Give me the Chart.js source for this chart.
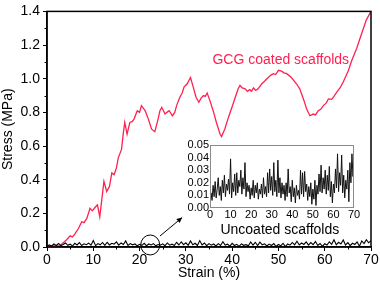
<!DOCTYPE html>
<html>
<head>
<meta charset="utf-8">
<script src="https://cdn.jsdelivr.net/npm/chart.js@4"></script>
<style>
  html, body { margin: 0; padding: 0; background: #fff; }
  #wrap { position: relative; width: 380px; height: 287px; }
  #main { position: absolute; left: 0; top: 0; }
  #inset { position: absolute; left: 170px; top: 135px; }
</style>
</head>
<body>
<div id="wrap">
  <canvas id="main" width="380" height="287"></canvas>
  <canvas id="inset" width="200" height="90"></canvas>
</div>
<script>
// GCG coated scaffolds (red curve)
const coatedStrain = [0, 2.8, 3.7, 4.3, 5.0, 5.5, 6.0, 6.8, 7.5, 8.0, 8.6, 9.3, 9.8, 10.4, 10.9, 11.4, 12.3, 12.9, 13.5, 14.0, 14.5, 15.0, 15.4, 16.1, 16.5, 16.8, 17.3, 17.9, 18.4, 18.8, 19.5, 20.0, 20.4, 20.8, 21.2, 21.9, 22.6, 23.3, 24.0, 24.4, 24.8, 25.5, 25.9, 26.4, 27.1, 27.6, 28.0, 28.7, 29.2, 29.6, 30.3, 31.0, 31.6, 32.2, 32.8, 33.3, 33.8, 34.2, 34.6, 35.2, 35.9, 36.6, 37.4, 37.7, 38.4, 39.2, 40.2, 40.8, 41.3, 41.7, 42.2, 42.8, 43.3, 43.8, 44.2, 44.6, 45.1, 45.6, 46.4, 47.0, 47.8, 48.3, 48.9, 49.4, 50.0, 50.7, 51.2, 51.8, 52.8, 53.9, 54.6, 55.4, 56.1, 56.8, 57.5, 58.0, 58.6, 59.2, 59.7, 60.3, 60.8, 61.5, 62.0, 62.6, 63.3, 64.0, 65.1, 65.8, 66.9, 68.0, 69.0, 70];
const coatedStress = [0.003, 0.008, 0.03, 0.045, 0.066, 0.06, 0.076, 0.11, 0.15, 0.145, 0.17, 0.23, 0.215, 0.236, 0.25, 0.18, 0.39, 0.33, 0.36, 0.44, 0.43, 0.47, 0.53, 0.58, 0.68, 0.74, 0.67, 0.74, 0.745, 0.76, 0.81, 0.80, 0.84, 0.825, 0.81, 0.76, 0.70, 0.685, 0.76, 0.81, 0.83, 0.79, 0.80, 0.81, 0.78, 0.80, 0.84, 0.89, 0.915, 0.95, 0.97, 1.007, 0.95, 0.89, 0.86, 0.885, 0.90, 0.895, 0.915, 0.87, 0.81, 0.74, 0.67, 0.656, 0.70, 0.77, 0.85, 0.90, 0.94, 0.96, 0.945, 0.94, 0.925, 0.935, 0.925, 0.945, 0.93, 0.94, 0.97, 0.985, 1.007, 1.02, 1.03, 1.025, 1.05, 1.045, 1.035, 1.03, 1.007, 0.97, 0.94, 0.88, 0.82, 0.78, 0.79, 0.785, 0.81, 0.82, 0.84, 0.855, 0.88, 0.877, 0.895, 0.92, 0.945, 0.98, 1.047, 1.105, 1.18, 1.27, 1.35, 1.4];

// Uncoated scaffolds (black noisy curve), sampled every 0.5 % strain
const uncoatedStrain = [];
for (let i = 0; i <= 140; i++) uncoatedStrain.push(i * 0.5);
const uncoatedStress = [
  0.003, 0.012, 0.006, 0.018, 0.009, 0.021, 0.008, 0.015, 0.024, 0.010, 0.017,
  0.006, 0.022, 0.012, 0.026, 0.009, 0.019, 0.014, 0.023, 0.011, 0.039,
  0.008, 0.020, 0.013, 0.027, 0.010, 0.028, 0.012, 0.022, 0.017, 0.030,
  0.011, 0.024, 0.015, 0.036, 0.009, 0.020, 0.013, 0.018, 0.007, 0.016,
  0.010, 0.022, 0.008, 0.018, 0.012, 0.020, 0.007, 0.015, 0.011, 0.019,
  0.008, 0.024, 0.011, 0.017, 0.009, 0.028, 0.012, 0.031, 0.014, 0.025,
  0.010, 0.036, 0.013, 0.022, 0.009, 0.038, 0.012, 0.024, 0.008, 0.020,
  0.011, 0.018, 0.006, 0.020, 0.009, 0.031, 0.012, 0.017, 0.005, 0.022,
  0.009, 0.016, 0.004, 0.018, 0.010, 0.014, 0.007, 0.030, 0.011, 0.028,
  0.009, 0.029, 0.013, 0.019, 0.006, 0.017, 0.009, 0.020, 0.003, 0.015,
  0.007, 0.022, 0.002, 0.018, 0.011, 0.027, 0.013, 0.034, 0.012, 0.024,
  0.015, 0.030, 0.011, 0.026, 0.014, 0.033, 0.009, 0.021, 0.004, 0.019,
  0.012, 0.031, 0.016, 0.043, 0.013, 0.028, 0.018, 0.042, 0.012, 0.026,
  0.008, 0.022, 0.015, 0.030, 0.005, 0.036, 0.020, 0.043, 0.025, 0.038
];

const xTicks = [0, 10, 20, 30, 40, 50, 60, 70];
const yTicks = [0.0, 0.2, 0.4, 0.6, 0.8, 1.0, 1.2, 1.4];
const insetYTicks = [0.00, 0.01, 0.02, 0.03, 0.04, 0.05];

const RED = '#ff2050';
const FONT = "'Liberation Sans', Arial, sans-serif";

function pts(xs, ys) {
  return xs.map((x, i) => ({ x: x, y: ys[i] }));
}

// frame, minor ticks, circle, arrow and labels
const decorations = {
  id: 'decorations',
  afterDraw(chart) {
    const { ctx, chartArea: a, scales: { x, y } } = chart;
    ctx.save();
    ctx.strokeStyle = '#000';
    ctx.lineWidth = 1;
    // minor ticks
    [5, 15, 25, 35, 45, 55, 65].forEach(v => {
      const px = Math.round(x.getPixelForValue(v)) + 0.5;
      ctx.beginPath(); ctx.moveTo(px, a.bottom); ctx.lineTo(px, a.bottom + 2.5); ctx.stroke();
    });
    [0.1, 0.3, 0.5, 0.7, 0.9, 1.1, 1.3].forEach(v => {
      const py = Math.round(y.getPixelForValue(v)) + 0.5;
      ctx.beginPath(); ctx.moveTo(a.left, py); ctx.lineTo(a.left - 2.5, py); ctx.stroke();
    });
    // frame
    ctx.lineWidth = 1.5;
    ctx.strokeRect(a.left, a.top, a.right - a.left, a.bottom - a.top);

    // circle round the zoomed region
    ctx.lineWidth = 1;
    ctx.beginPath();
    ctx.ellipse(x.getPixelForValue(22.3), y.getPixelForValue(0.012), 9.5, 10, 0, 0, Math.PI * 2);
    ctx.stroke();

    // arrow to inset
    const x0 = x.getPixelForValue(24.4), y0 = y.getPixelForValue(0.065);
    const x1 = x.getPixelForValue(29.2), y1 = y.getPixelForValue(0.175);
    ctx.beginPath(); ctx.moveTo(x0, y0); ctx.lineTo(x1, y1); ctx.stroke();
    const ang = Math.atan2(y1 - y0, x1 - x0);
    ctx.beginPath();
    ctx.moveTo(x1, y1);
    ctx.lineTo(x1 - 6 * Math.cos(ang - 0.45), y1 - 6 * Math.sin(ang - 0.45));
    ctx.lineTo(x1 - 6 * Math.cos(ang + 0.45), y1 - 6 * Math.sin(ang + 0.45));
    ctx.closePath();
    ctx.fillStyle = '#000';
    ctx.fill();

    // series labels
    ctx.textAlign = 'center';
    ctx.textBaseline = 'middle';
    ctx.font = '14px ' + FONT;
    ctx.fillStyle = RED;
    ctx.fillText('GCG coated scaffolds', x.getPixelForValue(50.5), y.getPixelForValue(1.113));
    ctx.fillStyle = '#000';
    ctx.fillText('Uncoated scaffolds', x.getPixelForValue(50.3), y.getPixelForValue(0.10));
    ctx.restore();
  }
};

new Chart(document.getElementById('main'), {
  type: 'line',
  data: {
    datasets: [
      {
        data: pts(uncoatedStrain, uncoatedStress),
        borderColor: '#000',
        borderWidth: 1.1,
        pointRadius: 0,
        tension: 0
      },
      {
        data: pts(coatedStrain, coatedStress),
        borderColor: RED,
        borderWidth: 1.3,
        pointRadius: 0,
        tension: 0
      }
    ]
  },
  options: {
    responsive: false,
    animation: false,
    events: [],
    layout: { padding: { left: 0, top: 8, right: 9, bottom: 5 } },
    plugins: { legend: { display: false }, tooltip: { enabled: false } },
    scales: {
      x: {
        type: 'linear',
        min: 0, max: 70,
        afterBuildTicks: s => { s.ticks = xTicks.map(v => ({ value: v })); },
        afterFit: s => { s.height = 35; },
        grid: { drawOnChartArea: false, tickLength: 4, tickColor: '#000', tickWidth: 1 },
        border: { color: '#000', width: 1.5 },
        ticks: { color: '#000', font: { family: FONT, size: 14 }, padding: 1, maxRotation: 0 },
        title: { display: true, text: 'Strain (%)', color: '#000', font: { family: FONT, size: 14 }, padding: { top: 0, bottom: 0 } }
      },
      y: {
        min: 0, max: 1.4,
        afterBuildTicks: s => { s.ticks = yTicks.map(v => ({ value: v })); },
        afterFit: s => { s.width = 47; },
        grid: { drawOnChartArea: false, tickLength: 4, tickColor: '#000', tickWidth: 1 },
        border: { color: '#000', width: 1.5 },
        ticks: { color: '#000', font: { family: FONT, size: 14 }, padding: 3, callback: v => v.toFixed(1) },
        title: { display: true, text: 'Stress (MPa)', color: '#000', font: { family: FONT, size: 14 }, padding: { top: 0, bottom: 0 } }
      }
    }
  },
  plugins: [decorations]
});

const insetFrame = {
  id: 'insetFrame',
  beforeDatasetsDraw(chart) {
    const { ctx, chartArea: a } = chart;
    ctx.save();
    ctx.fillStyle = '#fff';
    ctx.fillRect(a.left, a.top, a.right - a.left, a.bottom - a.top);
    ctx.restore();
  },
  afterDraw(chart) {
    const { ctx, chartArea: a } = chart;
    ctx.save();
    ctx.strokeStyle = '#8a8a8a';
    ctx.lineWidth = 1;
    ctx.strokeRect(a.left + 0.5, a.top + 0.5, a.right - a.left - 1, a.bottom - a.top - 1);
    ctx.restore();
  }
};

new Chart(document.getElementById('inset'), {
  type: 'line',
  data: {
    datasets: [{
      data: pts(uncoatedStrain, uncoatedStress),
      borderColor: '#111',
      borderWidth: 1,
      pointRadius: 0,
      tension: 0
    }]
  },
  options: {
    responsive: false,
    animation: false,
    events: [],
    layout: { padding: { left: 0, top: 10, right: 16, bottom: 0 } },
    plugins: { legend: { display: false }, tooltip: { enabled: false } },
    scales: {
      x: {
        type: 'linear',
        min: 0, max: 70,
        afterBuildTicks: s => { s.ticks = xTicks.map(v => ({ value: v })); },
        afterFit: s => { s.height = 17; },
        grid: { display: false, drawTicks: false },
        border: { display: false },
        ticks: { color: '#000', font: { family: FONT, size: 11 }, padding: 0, maxRotation: 0, autoSkip: false }
      },
      y: {
        min: 0, max: 0.05,
        afterBuildTicks: s => { s.ticks = insetYTicks.map(v => ({ value: v })); },
        afterFit: s => { s.width = 40; },
        grid: { display: false, drawTicks: false },
        border: { display: false },
        ticks: { color: '#000', font: { family: FONT, size: 11 }, padding: 1, autoSkip: false, callback: v => v.toFixed(2) }
      }
    }
  },
  plugins: [insetFrame]
});
</script>
</body>
</html>
